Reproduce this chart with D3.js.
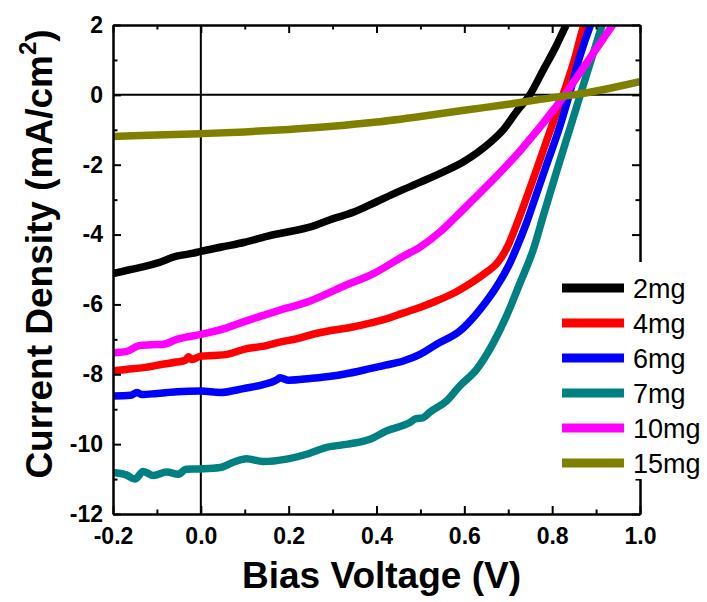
<!DOCTYPE html>
<html>
<head>
<meta charset="utf-8">
<script src="https://cdn.jsdelivr.net/npm/d3@7"></script>
<style>
  html, body { margin: 0; padding: 0; background: #fff; }
  svg { display: block; }
  text { font-family: Arial, "Liberation Sans", sans-serif; fill: #000; }
</style>
</head>
<body>
<svg id="chart" width="707" height="602"></svg>
<script>
// J–V curves for films prepared with different loadings
const seriesNames = ["2mg", "4mg", "6mg", "7mg", "10mg", "15mg"];
const seriesColors = ["#000000", "#ff0000", "#0000ff", "#008080", "#ff00ff", "#808000"];

const v2mg = [-0.2, -0.16, -0.13, -0.1, -0.055, -0.02, 0, 0.05, 0.1, 0.15, 0.2, 0.25, 0.3, 0.35, 0.4, 0.45, 0.5, 0.55, 0.6, 0.63, 0.66, 0.69, 0.72, 0.75, 0.78, 0.81, 0.83, 0.845];
const j2mg = [-5.12, -5.0, -4.92, -4.82, -4.62, -4.54, -4.48, -4.35, -4.22, -4.05, -3.92, -3.78, -3.55, -3.35, -3.06, -2.77, -2.5, -2.22, -1.9, -1.65, -1.35, -0.98, -0.46, 0.02, 0.72, 1.42, 1.95, 2.3];

const v4mg = [-0.2, -0.17, -0.13, -0.09, -0.055, -0.035, -0.028, -0.02, 0, 0.03, 0.06, 0.1, 0.14, 0.18, 0.22, 0.26, 0.3, 0.34, 0.38, 0.42, 0.46, 0.5, 0.54, 0.58, 0.62, 0.65, 0.67, 0.685, 0.7, 0.72, 0.75, 0.78, 0.81, 0.83, 0.85, 0.87, 0.885];
const j4mg = [-7.9, -7.86, -7.81, -7.72, -7.65, -7.6, -7.5, -7.58, -7.48, -7.46, -7.43, -7.28, -7.2, -7.08, -6.98, -6.84, -6.74, -6.66, -6.55, -6.42, -6.25, -6.08, -5.88, -5.65, -5.35, -5.08, -4.88, -4.64, -4.3, -3.68, -2.65, -1.58, -0.5, 0.2, 0.98, 1.9, 2.4];

const v6mg = [-0.2, -0.16, -0.145, -0.135, -0.1, -0.055, 0, 0.044, 0.097, 0.14, 0.173, 0.18, 0.2, 0.249, 0.3, 0.325, 0.385, 0.42, 0.461, 0.499, 0.537, 0.59, 0.636, 0.674, 0.704, 0.72, 0.742, 0.765, 0.79, 0.81, 0.84, 0.863, 0.886, 0.9];
const j6mg = [-8.62, -8.6, -8.52, -8.58, -8.55, -8.5, -8.48, -8.52, -8.41, -8.3, -8.16, -8.1, -8.17, -8.12, -8.05, -8.0, -7.84, -7.74, -7.62, -7.43, -7.14, -6.76, -6.14, -5.48, -4.81, -4.35, -3.65, -2.81, -1.9, -1.19, 0.05, 1.1, 1.95, 2.4];

const v7mg = [-0.2, -0.17, -0.15, -0.131, -0.108, -0.078, -0.051, -0.034, 0, 0.044, 0.074, 0.104, 0.142, 0.195, 0.241, 0.287, 0.335, 0.385, 0.423, 0.476, 0.49, 0.505, 0.522, 0.56, 0.59, 0.628, 0.666, 0.696, 0.727, 0.757, 0.78, 0.81, 0.84, 0.87, 0.9, 0.92];
const j7mg = [-10.81, -10.88, -11.0, -10.78, -10.9, -10.8, -10.86, -10.72, -10.71, -10.67, -10.52, -10.42, -10.5, -10.43, -10.29, -10.09, -10.0, -9.86, -9.62, -9.38, -9.27, -9.25, -9.08, -8.76, -8.33, -7.86, -7.1, -6.33, -5.38, -4.43, -3.45, -2.2, -0.98, 0.24, 1.45, 2.25];

const v10mg = [-0.2, -0.17, -0.14, -0.1, -0.085, -0.055, 0, 0.059, 0.097, 0.173, 0.249, 0.325, 0.393, 0.461, 0.5, 0.545, 0.58, 0.62, 0.66, 0.696, 0.73, 0.757, 0.78, 0.803, 0.825, 0.848, 0.871, 0.894, 0.917, 0.939, 0.955];
const j10mg = [-7.38, -7.35, -7.18, -7.15, -7.14, -7.0, -6.86, -6.67, -6.5, -6.19, -5.9, -5.48, -5.12, -4.62, -4.35, -3.92, -3.5, -3.0, -2.5, -2.03, -1.56, -1.15, -0.8, -0.43, -0.07, 0.35, 0.78, 1.2, 1.62, 2.03, 2.35];

const v15mg = [-0.2, -0.1, 0, 0.1, 0.2, 0.3, 0.4, 0.5, 0.6, 0.7, 0.8, 0.85, 0.9, 0.95, 1.0];
const j15mg = [-1.19, -1.15, -1.11, -1.06, -0.99, -0.9, -0.78, -0.62, -0.44, -0.27, -0.08, 0.0, 0.11, 0.24, 0.38];

const xTicks = [-0.2, 0.0, 0.2, 0.4, 0.6, 0.8, 1.0];
const xMinorTicks = [-0.1, 0.1, 0.3, 0.5, 0.7, 0.9];
const yTicks = [2, 0, -2, -4, -6, -8, -10, -12];
const yMinorTicks = [1, -1, -3, -5, -7, -9, -11];

const seriesV = [v2mg, v4mg, v6mg, v7mg, v10mg, v15mg];
const seriesJ = [j2mg, j4mg, j6mg, j7mg, j10mg, j15mg];

const svg = d3.select("#chart");
const plotLeft = 113, plotRight = 640, plotTop = 25, plotBottom = 514;

const x = d3.scaleLinear().domain([-0.2, 1.0]).range([plotLeft, plotRight]);
const y = d3.scaleLinear().domain([-12, 2]).range([plotBottom, plotTop]);

svg.append("defs").append("clipPath").attr("id", "plotClip")
  .append("rect").attr("x", plotLeft).attr("y", plotTop)
  .attr("width", plotRight - plotLeft).attr("height", plotBottom - plotTop);

// zero reference lines
svg.append("line").attr("x1", x(0)).attr("x2", x(0)).attr("y1", plotTop).attr("y2", plotBottom)
  .attr("stroke", "#000").attr("stroke-width", 2);
svg.append("line").attr("x1", plotLeft).attr("x2", plotRight).attr("y1", y(0)).attr("y2", y(0))
  .attr("stroke", "#000").attr("stroke-width", 2);

// curves
const line = d3.line().x(d => x(d[0])).y(d => y(d[1])).curve(d3.curveMonotoneX);
const curves = svg.append("g").attr("clip-path", "url(#plotClip)");
seriesNames.forEach((name, i) => {
  const pts = seriesV[i].map((v, k) => [v, seriesJ[i][k]]);
  curves.append("path").datum(pts)
    .attr("d", line)
    .attr("fill", "none")
    .attr("stroke", seriesColors[i])
    .attr("stroke-width", 7.5)
    .attr("stroke-linejoin", "round")
    .attr("stroke-linecap", "butt");
});

// axes: ticks point inward on all four sides
function styleAxis(g) {
  g.selectAll(".domain").attr("stroke", "#000").attr("stroke-width", 2);
  g.selectAll(".tick line").attr("stroke", "#000").attr("stroke-width", 2);
  g.selectAll(".tick text").attr("font-size", 23).attr("font-weight", "bold")
    .attr("font-family", "Arial, 'Liberation Sans', sans-serif").attr("fill", "#000");
}

svg.append("g").attr("transform", `translate(0,${plotBottom})`)
  .call(d3.axisBottom(x).tickValues(xTicks).tickSizeInner(-8).tickSizeOuter(0)
    .tickPadding(14).tickFormat(d => d.toFixed(1)))
  .call(styleAxis);
svg.append("g").attr("transform", `translate(0,${plotBottom})`)
  .call(d3.axisBottom(x).tickValues(xMinorTicks).tickSizeInner(-4.5).tickSizeOuter(0).tickFormat(""))
  .call(styleAxis);

svg.append("g").attr("transform", `translate(0,${plotTop})`)
  .call(d3.axisTop(x).tickValues(xTicks).tickSizeInner(-8).tickSizeOuter(0).tickFormat(""))
  .call(styleAxis);
svg.append("g").attr("transform", `translate(0,${plotTop})`)
  .call(d3.axisTop(x).tickValues(xMinorTicks).tickSizeInner(-4.5).tickSizeOuter(0).tickFormat(""))
  .call(styleAxis);

svg.append("g").attr("transform", `translate(${plotLeft},0)`)
  .call(d3.axisLeft(y).tickValues(yTicks).tickSizeInner(-8).tickSizeOuter(0)
    .tickPadding(10).tickFormat(d => String(d)))
  .call(styleAxis);
svg.append("g").attr("transform", `translate(${plotLeft},0)`)
  .call(d3.axisLeft(y).tickValues(yMinorTicks).tickSizeInner(-4.5).tickSizeOuter(0).tickFormat(""))
  .call(styleAxis);

svg.append("g").attr("transform", `translate(${plotRight},0)`)
  .call(d3.axisRight(y).tickValues(yTicks).tickSizeInner(-8).tickSizeOuter(0).tickFormat(""))
  .call(styleAxis);
svg.append("g").attr("transform", `translate(${plotRight},0)`)
  .call(d3.axisRight(y).tickValues(yMinorTicks).tickSizeInner(-4.5).tickSizeOuter(0).tickFormat(""))
  .call(styleAxis);

// axis titles
svg.append("text")
  .attr("x", (plotLeft + plotRight) / 2 + 5).attr("y", 588)
  .attr("text-anchor", "middle").attr("font-size", 37).attr("font-weight", "bold")
  .text("Bias Voltage (V)");

const yTitle = svg.append("text")
  .attr("transform", `translate(52,254) rotate(-90)`)
  .attr("text-anchor", "middle").attr("font-size", 37).attr("font-weight", "bold");
yTitle.append("tspan").text("Current Density (mA/cm");
yTitle.append("tspan").attr("font-size", 24).attr("dy", -16).text("2");
yTitle.append("tspan").attr("dy", 16).text(")");

// legend, on an opaque panel over the right frame
const legend = svg.append("g");
legend.append("rect").attr("x", 553).attr("y", 262).attr("width", 154).attr("height", 217)
  .attr("fill", "#fff");
seriesNames.forEach((name, i) => {
  const ly = 288 + i * 35;
  legend.append("line").attr("x1", 562).attr("x2", 624).attr("y1", ly).attr("y2", ly)
    .attr("stroke", seriesColors[i]).attr("stroke-width", 9);
  legend.append("text").attr("x", 633).attr("y", ly + 10)
    .attr("font-size", 27).text(name);
});
</script>
</body>
</html>
